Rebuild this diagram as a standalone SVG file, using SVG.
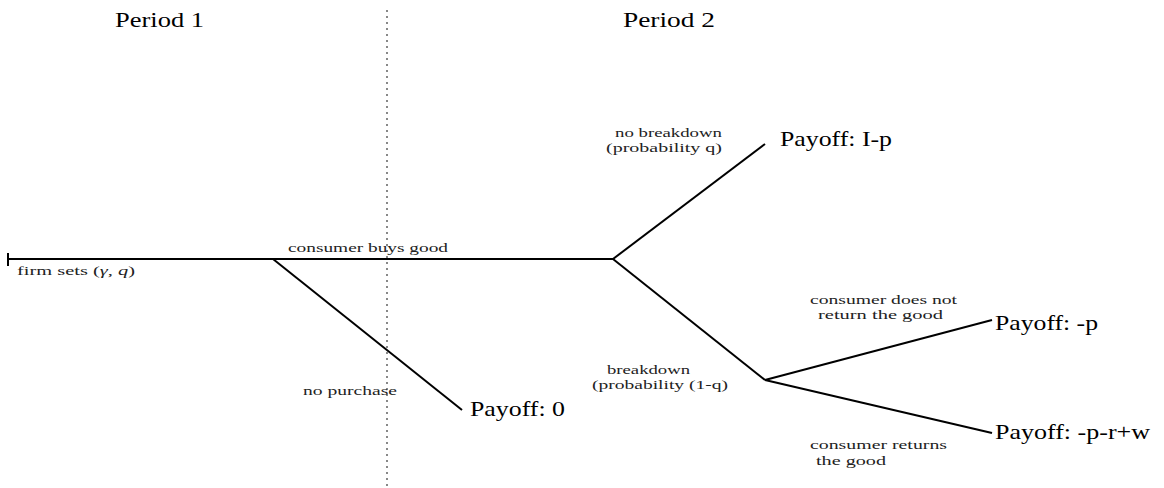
<svg xmlns="http://www.w3.org/2000/svg" width="1164" height="488" viewBox="0 0 1164 488">
  <style>
    .edge { stroke: #000; stroke-width: 2; fill: none; stroke-linecap: butt; }
    .big { font-family: "Liberation Serif", "DejaVu Serif", serif; font-size: 21px; fill: #000; }
    .small { font-family: "Liberation Serif", "DejaVu Serif", serif; font-size: 13px; fill: #222; }
    .divider { stroke: #888; stroke-width: 2; stroke-dasharray: 2 4; }
  </style>
  <rect width="1164" height="488" fill="#fff"/>

  <g id="periods">
    <line class="divider" x1="387" y1="10" x2="387" y2="488"/>
    <text class="big" x="115" y="27" textLength="89" lengthAdjust="spacingAndGlyphs">Period 1</text>
    <text class="big" x="623" y="27" textLength="92" lengthAdjust="spacingAndGlyphs">Period 2</text>
  </g>

  <g id="connectors">
    <line class="edge" x1="8" y1="259" x2="613" y2="259"/>
    <line class="edge" x1="8" y1="253" x2="8" y2="266"/>
    <line class="edge" x1="273" y1="259" x2="462" y2="410"/>
    <line class="edge" x1="613" y1="259" x2="765" y2="144"/>
    <line class="edge" x1="613" y1="259" x2="765" y2="380"/>
    <line class="edge" x1="765" y1="380" x2="992" y2="320"/>
    <line class="edge" x1="765" y1="380" x2="992" y2="433"/>
  </g>

  <g id="edge-labels">
    <text class="small" x="17" y="275" textLength="118" lengthAdjust="spacingAndGlyphs">firm sets (<tspan font-style="italic">γ</tspan>, <tspan font-style="italic">q</tspan>)</text>
    <text class="small" x="288" y="252" textLength="160" lengthAdjust="spacingAndGlyphs">consumer buys good</text>
    <text class="small" x="615" y="137" textLength="107" lengthAdjust="spacingAndGlyphs">no breakdown</text>
    <text class="small" x="606" y="152" textLength="116" lengthAdjust="spacingAndGlyphs">(probability q)</text>
    <text class="small" x="607" y="374" textLength="83" lengthAdjust="spacingAndGlyphs">breakdown</text>
    <text class="small" x="592" y="389" textLength="136" lengthAdjust="spacingAndGlyphs">(probability (1-q)</text>
    <text class="small" x="303" y="395" textLength="94" lengthAdjust="spacingAndGlyphs">no purchase</text>
    <text class="small" x="810" y="304" textLength="147" lengthAdjust="spacingAndGlyphs">consumer does not</text>
    <text class="small" x="818" y="319" textLength="125" lengthAdjust="spacingAndGlyphs">return the good</text>
    <text class="small" x="810" y="449" textLength="137" lengthAdjust="spacingAndGlyphs">consumer returns</text>
    <text class="small" x="816" y="465" textLength="70" lengthAdjust="spacingAndGlyphs">the good</text>
  </g>

  <g id="node-payoff-Ip">
    <text class="big" x="780" y="146" textLength="112" lengthAdjust="spacingAndGlyphs">Payoff: I-p</text>
  </g>
  <g id="node-payoff-0">
    <text class="big" x="470" y="416" textLength="95" lengthAdjust="spacingAndGlyphs">Payoff: 0</text>
  </g>
  <g id="node-payoff-p">
    <text class="big" x="995" y="330" textLength="103" lengthAdjust="spacingAndGlyphs">Payoff: -p</text>
  </g>
  <g id="node-payoff-prw">
    <text class="big" x="995" y="439" textLength="155" lengthAdjust="spacingAndGlyphs">Payoff: -p-r+w</text>
  </g>
</svg>
